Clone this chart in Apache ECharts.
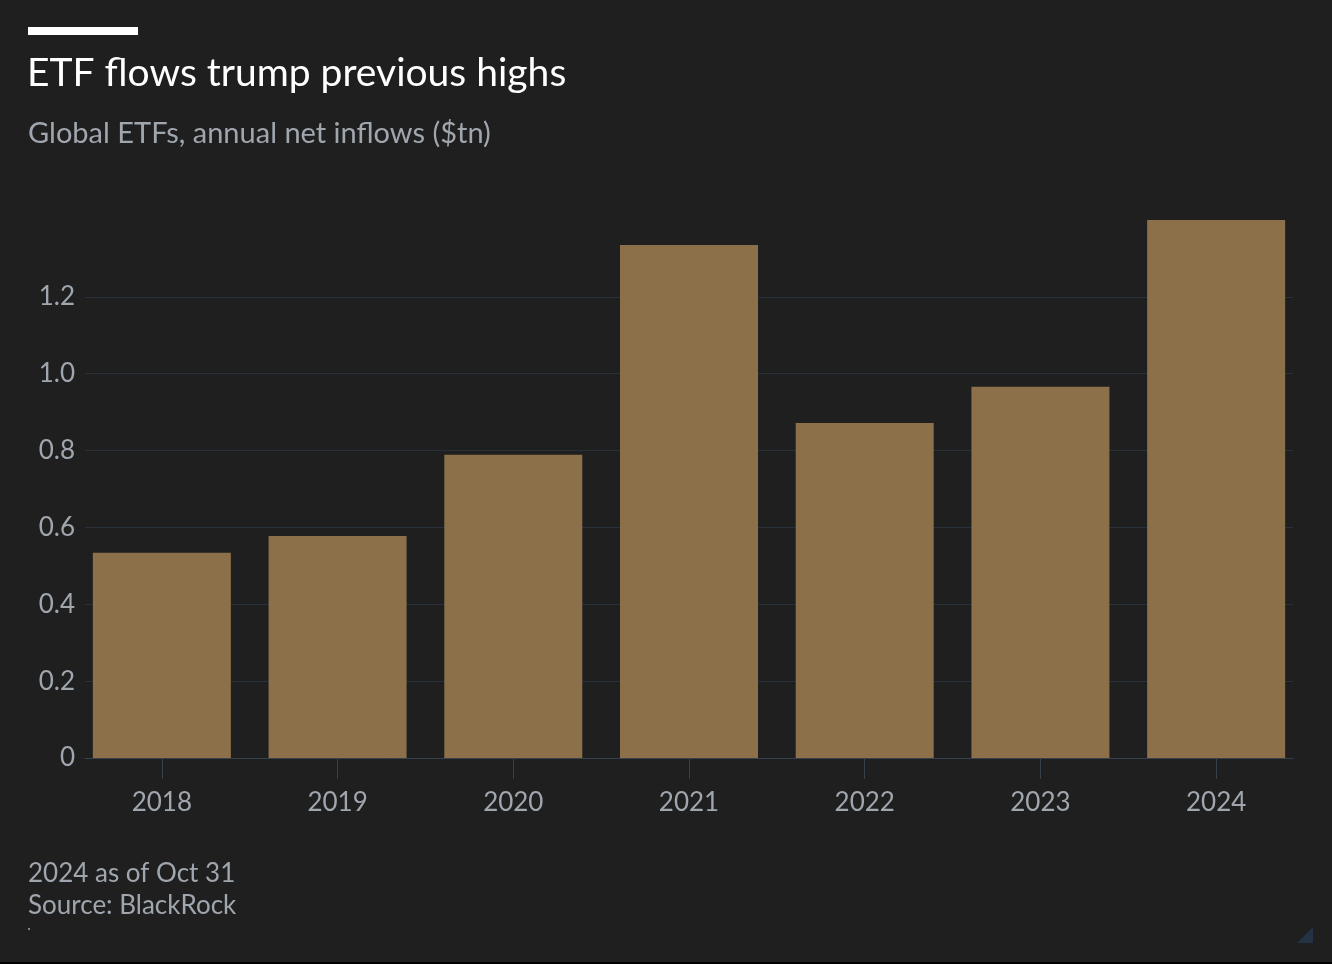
<!DOCTYPE html>
<html>
<head>
<meta charset="utf-8">
<script src="https://cdn.jsdelivr.net/npm/echarts@6/dist/echarts.min.js"></script>
<style>
html,body{margin:0;padding:0;background:#1f1f1f;}
#chart{width:1332px;height:964px;}
</style>
</head>
<body>
<div id="chart"></div>
<script>
const categories = ['2018','2019','2020','2021','2022','2023','2024'];
const inflows = [0.534, 0.578, 0.789, 1.335, 0.872, 0.966, 1.40];
const yTicks = { min: 0, max: 1.4, interval: 0.2 };

const FONT = 'Lato, "Noto Sans", sans-serif';
const chart = echarts.init(document.getElementById('chart'));
chart.setOption({
  backgroundColor: '#1f1f1f',
  animation: false,
  title: [
    { text: 'ETF flows trump previous highs', left: 22, top: 49,
      textStyle: { color: '#ffffff', fontSize: 39, fontWeight: 'normal', fontFamily: FONT } },
    { text: 'Global ETFs, annual net inflows ($tn)', left: 23, top: 114,
      textStyle: { color: '#a0a6ae', fontSize: 29, fontWeight: 'normal', fontFamily: FONT } },
    { text: '2024 as of Oct 31\nSource: BlackRock', left: 23, top: 853,
      textStyle: { color: '#a0a6ae', fontSize: 26, fontWeight: 'normal', fontFamily: FONT, lineHeight: 32 } }
  ],
  graphic: [
    { type: 'rect', shape: { x: 28, y: 27, width: 110, height: 8 }, style: { fill: '#ffffff' } },
    { type: 'circle', shape: { cx: 29, cy: 929, r: 1 }, style: { fill: '#a0a6ae' } },
    { type: 'polygon', shape: { points: [[1313, 927], [1313, 943], [1297, 943]] }, style: { fill: '#243246' } },
    { type: 'rect', shape: { x: 0, y: 962, width: 1332, height: 2 }, style: { fill: '#000000' } }
  ],
  grid: [
    { left: 74, right: 28, top: 220, bottom: 206 },
    { left: 85, right: 39, top: 220, bottom: 206 }
  ],
  xAxis: [
    { type: 'category', gridIndex: 0, data: categories, boundaryGap: true,
      axisLine: { show: false },
      axisTick: { show: true, alignWithLabel: true, length: 21, lineStyle: { color: '#37414d', width: 1 } },
      axisLabel: { color: '#a0a6ae', fontSize: 26, fontFamily: FONT, margin: 32 } },
    { type: 'value', gridIndex: 1, min: 0, max: 1, show: true,
      axisLine: { show: true, onZero: false, lineStyle: { color: '#37414d', width: 1 } },
      axisTick: { show: false }, axisLabel: { show: false }, splitLine: { show: false } }
  ],
  yAxis: [
    { type: 'value', gridIndex: 0, min: yTicks.min, max: yTicks.max, interval: yTicks.interval,
      show: false },
    { type: 'value', gridIndex: 1, min: yTicks.min, max: yTicks.max, interval: yTicks.interval,
      axisLine: { show: false }, axisTick: { show: false },
      axisLabel: { color: '#a0a6ae', fontSize: 26, fontFamily: FONT, margin: 10, showMaxLabel: false,
        formatter: v => v === 0 ? '0' : v.toFixed(1) },
      splitLine: { show: true, showMaxLine: false, showMinLine: false, lineStyle: { color: '#28313b', width: 1 } } }
  ],
  series: [
    { type: 'bar', xAxisIndex: 0, yAxisIndex: 0, data: inflows, barWidth: 138,
      itemStyle: { color: '#8c704a' }, z: 3 }
  ]
});
</script>
</body>
</html>
